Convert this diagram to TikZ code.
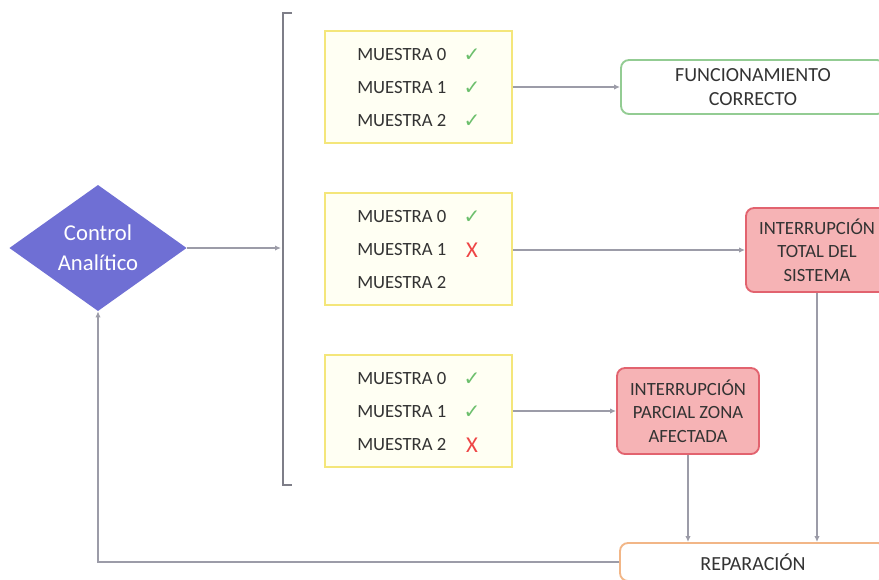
\documentclass[tikz,border=0pt]{standalone}
\usepackage{fontspec}
\setmainfont{Carlito}
\newfontfamily\symfont{DejaVu Sans}
\usetikzlibrary{shapes.geometric,arrows.meta,positioning}

\definecolor{ctrlblue}{HTML}{6F6FD4}
\definecolor{linegray}{HTML}{9C9CA8}
\definecolor{bracketgray}{HTML}{7E7E88}
\definecolor{boxyellow}{HTML}{F4E67A}
\definecolor{boxfill}{HTML}{FFFFF3}
\definecolor{okborder}{HTML}{93CC93}
\definecolor{koborder}{HTML}{E2636F}
\definecolor{kofill}{HTML}{F6B3B5}
\definecolor{repborder}{HTML}{F2B687}
\definecolor{okgreen}{HTML}{6CBF6C}
\definecolor{kored}{HTML}{EE4545}
\definecolor{txtgray}{HTML}{333333}

\newcommand{\okmark}{{\symfont\fontsize{15}{15}\selectfont\color{okgreen}✓}}
\newcommand{\komark}{{\fontsize{17}{17}\selectfont\color{kored}X}}

\tikzset{
  conn/.style={draw=linegray, line width=0.9pt, -{Latex[length=4.5pt,width=4pt]}},
  muestrabox/.style={draw=boxyellow, fill=boxfill, line width=1.4pt,
    minimum width=140pt, minimum height=84pt, inner sep=0pt},
  rowtext/.style={anchor=west, inner sep=0pt, text=txtgray,
    font=\fontsize{14}{16}\selectfont},
  marktext/.style={inner sep=0pt},
  endbox/.style={draw, rounded corners=6pt, line width=1.4pt, align=center,
    inner sep=0pt, text=txtgray, font=\fontsize{14}{17.5}\selectfont}
}

\begin{document}
\begin{tikzpicture}[x=0.75pt, y=-0.75pt]
  \useasboundingbox (0,0) rectangle (879,579);
  \clip (0,0) rectangle (879,579);

  % decision
  \node[diamond, fill=ctrlblue, minimum width=133pt, minimum height=92pt,
    inner sep=0pt, align=center, text=white,
    font=\fontsize{17}{22.5}\selectfont] (ctrl) at (98,248) {Control\\Analítico};

  % bracket
  \draw[bracketgray, line width=1.6pt] (292,13) -- (283,13) -- (283,485) -- (292,485);
  \coordinate (br) at (281,248);
  \draw[conn] (ctrl.east) -- (br);

  % sample boxes
  \node[muestrabox] (mA) at (418.5,87) {};
  \node[muestrabox] (mB) at (418.5,249) {};
  \node[muestrabox] (mC) at (418.5,411) {};

  \foreach \i/\mk in {0/\okmark,1/\okmark,2/\okmark}{
    \node[rowtext] (mAr\i) at (357,{55+33*\i}) {MUESTRA \i};
    \node[marktext] (mAk\i) at (472,{55+33*\i}) {\mk};
  }
  \foreach \i/\mk in {0/\okmark,1/\komark,2/{}}{
    \node[rowtext] (mBr\i) at (357,{217+33*\i}) {MUESTRA \i};
    \node[marktext] (mBk\i) at (472,{217+33*\i}) {\mk};
  }
  \foreach \i/\mk in {0/\okmark,1/\okmark,2/\komark}{
    \node[rowtext] (mCr\i) at (357,{379+33*\i}) {MUESTRA \i};
    \node[marktext] (mCk\i) at (472,{379+33*\i}) {\mk};
  }

  % outcomes
  \node[endbox, draw=okborder, fill=white, minimum width=198pt,
    minimum height=40.5pt, font=\fontsize{15}{18}\selectfont]
    (func) at (753,87) {FUNCIONAMIENTO\\CORRECTO};
  \node[endbox, draw=koborder, fill=kofill, minimum width=106.5pt,
    minimum height=63pt] (total) at (817,250) {INTERRUPCIÓN\\TOTAL DEL\\SISTEMA};
  \node[endbox, draw=koborder, fill=kofill, minimum width=106.5pt,
    minimum height=64.5pt] (parcial) at (688,411) {INTERRUPCIÓN\\PARCIAL ZONA\\AFECTADA};
  \node[endbox, draw=repborder, fill=white, minimum width=199.5pt,
    minimum height=28.5pt, font=\fontsize{15}{18}\selectfont]
    (rep) at (753,562) {REPARACIÓN};

  % connectors
  \draw[conn] (mA.east) -- (func.west);
  \draw[conn] (mB.east |- total.west) -- (total.west);
  \draw[conn] (mC.east) -- (parcial.west);
  \draw[conn] (parcial.south) -- (parcial.south |- rep.north);
  \draw[conn] (total.south) -- (total.south |- rep.north);
  \draw[conn] (rep.west) -| (ctrl.south);
\end{tikzpicture}
\end{document}
